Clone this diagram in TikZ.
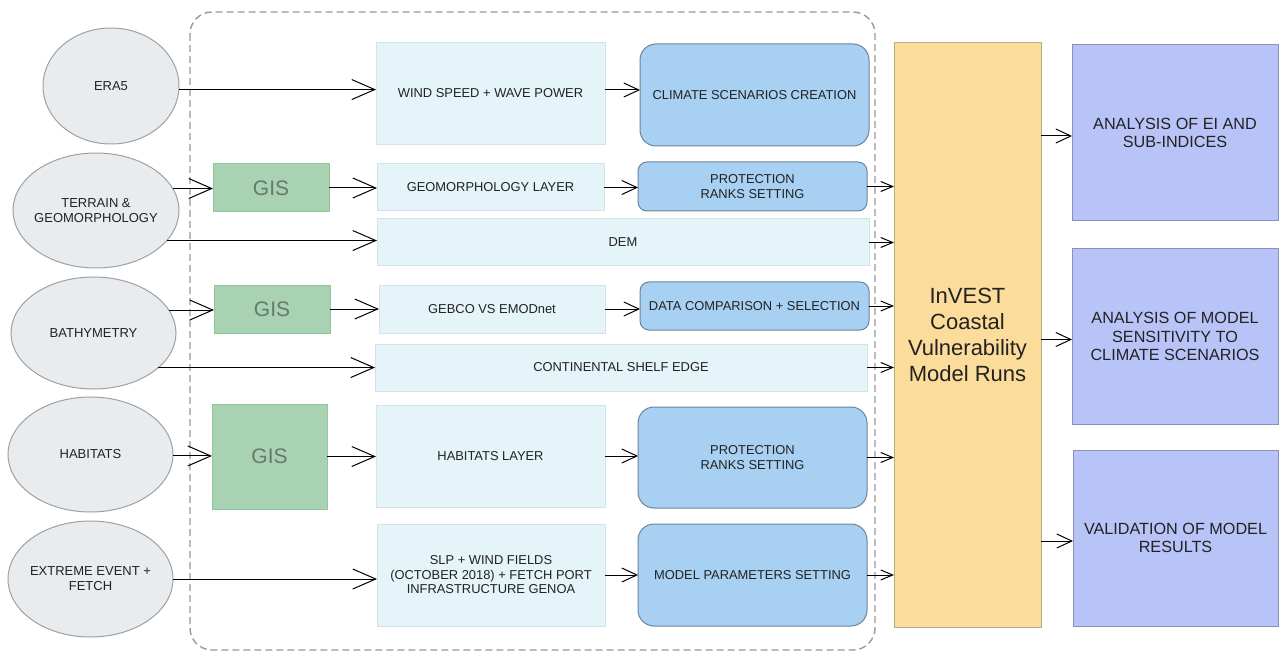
\documentclass[tikz,border=0pt]{standalone}
\usepackage{fontspec}
\setmainfont{Liberation Sans}
\usetikzlibrary{arrows.meta,shapes.geometric,calc}
\definecolor{ellfill}{HTML}{E9ECEF}
\definecolor{elldraw}{HTML}{A0A0A0}
\definecolor{gisfill}{HTML}{A9D2B2}
\definecolor{gisdraw}{HTML}{8FC79C}
\definecolor{gistext}{HTML}{667A6B}
\definecolor{lightfill}{HTML}{E4F4F8}
\definecolor{lightdraw}{HTML}{D3E4E8}
\definecolor{bluefill}{HTML}{A8D0F3}
\definecolor{bluedraw}{HTML}{6F8396}
\definecolor{invfill}{HTML}{FCDC9A}
\definecolor{invdraw}{HTML}{BBAA88}
\definecolor{rightfill}{HTML}{B8C4F8}
\definecolor{rightdraw}{HTML}{8A91B3}
\definecolor{txt}{HTML}{222222}
\tikzset{
  box/.style args={#1/#2}{minimum width=#1pt, minimum height=#2pt, inner sep=0pt, outer sep=0pt, align=center, text=txt},
  ell/.style={ellipse, draw=elldraw, fill=ellfill, line width=1pt, font=\fontsize{13}{15}\selectfont},
  gisbox/.style={rectangle, draw=gisdraw, fill=gisfill, line width=1pt, text=gistext, font=\fontsize{21}{24}\selectfont},
  lightbox/.style={rectangle, draw=lightdraw, fill=lightfill, line width=1pt, font=\fontsize{12.9}{14.5}\selectfont},
  bluebox/.style={rectangle, rounded corners=16pt, draw=bluedraw, fill=bluefill, line width=1pt, font=\fontsize{12.9}{14.5}\selectfont},
  invbox/.style={rectangle, draw=invdraw, fill=invfill, line width=1pt, font=\fontsize{22}{26}\selectfont},
  rightbox/.style={rectangle, draw=rightdraw, fill=rightfill, line width=1pt, font=\fontsize{16.2}{18.6}\selectfont},
  bigarr/.style={draw=black, line width=1pt, -{Straight Barb[length=23pt,width=20pt,line width=1pt]}},
  midarr/.style={draw=black, line width=1pt, -{Straight Barb[length=15pt,width=14pt,line width=1pt]}},
  smallarr/.style={draw=black, line width=1pt, -{Straight Barb[length=12pt,width=10pt,line width=1pt]}},
  groupframe/.style={draw=gray!80, line width=1.4pt, dash pattern=on 7pt off 4pt, rounded corners=22pt}
}
\begin{document}
\begin{tikzpicture}[x=1pt,y=-1pt]
\useasboundingbox (0,0) rectangle (1279,652);
\fill[white] (0,0) rectangle (1279,652);

% group frame
\draw[groupframe] (190,12) rectangle (875,650);

% ellipses
\node[ell, box=136/116, inner sep=-14pt] (era5) at (111,86) {ERA5};
\node[ell, box=166/115, inner sep=-14pt] (terrain) at (96,210.5) {TERRAIN \&\\GEOMORPHOLOGY};
\node[ell, box=165/112, inner sep=-14pt] (bathy) at (93.5,333) {BATHYMETRY};
\node[ell, box=165/115, inner sep=-14pt] (hab) at (90.5,454.5) {HABITATS};
\node[ell, box=165/116, inner sep=-14pt] (ext) at (90.5,579) {EXTREME EVENT +\\FETCH};

% GIS
\node[gisbox, box=116/48, text=gistext] (gis1) at (271,188) {GIS};
\node[gisbox, box=116/48, text=gistext] (gis2) at (272,309) {GIS};
\node[gisbox, box=115/105, text=gistext] (gis3) at (269.5,456.5) {GIS};

% light boxes
\node[lightbox, box=229/102] (wind) at (490.5,94) {\raisebox{3pt}{WIND SPEED + WAVE POWER}};
\node[lightbox, box=227/47] (geo) at (490.5,187.5) {GEOMORPHOLOGY LAYER};
\node[lightbox, box=492/47] (dem) at (623,242.5) {DEM};
\node[lightbox, box=226/48] (gebco) at (492,309) {GEBCO VS EMODnet};
\node[lightbox, box=492/47] (cont) at (621,367.5) {CONTINENTAL SHELF EDGE};
\node[lightbox, box=229/102] (habl) at (490.5,456) {HABITATS LAYER};
\node[lightbox, box=228/102] (slp) at (491,575) {SLP + WIND FIELDS\\(OCTOBER 2018) + FETCH PORT\\INFRASTRUCTURE GENOA};

% blue boxes
\node[bluebox, box=229/102] (climate) at (754.5,95) {CLIMATE SCENARIOS CREATION};
\node[bluebox, box=229/49, rounded corners=9pt] (prot1) at (752.5,186.5) {PROTECTION\\RANKS SETTING};
\node[bluebox, box=229/48, rounded corners=9pt] (datac) at (754.5,306) {DATA COMPARISON + SELECTION};
\node[bluebox, box=229/101] (prot2) at (752.5,457.5) {PROTECTION\\RANKS SETTING};
\node[bluebox, box=229/102] (model) at (752.5,575) {MODEL PARAMETERS SETTING};

% InVEST
\node[invbox, box=147/584] (invest) at (967.5,335) {InVEST\\Coastal\\Vulnerability\\Model Runs};

% right boxes
\node[rightbox, box=206/176] (ei) at (1175,133) {ANALYSIS OF EI AND\\SUB-INDICES};
\node[rightbox, box=206/175] (sens) at (1175,336.5) {ANALYSIS OF MODEL\\SENSITIVITY TO\\CLIMATE SCENARIOS};
\node[rightbox, box=205/176] (valid) at (1175.5,538) {VALIDATION OF MODEL\\RESULTS};

% arrows from ellipses
\draw[bigarr] (era5.-3.4) -- (era5.-3.4 -| wind.west);
\draw[bigarr] (terrain.16.4) -- (terrain.16.4 -| gis1.west);
\draw[bigarr] (terrain.-23.4) -- (terrain.-23.4 -| dem.west);
\draw[bigarr] (bathy.17) -- (bathy.17 -| gis2.west);
\draw[bigarr] (bathy.-28.5) -- (bathy.-28.5 -| cont.west);
\draw[bigarr] (hab.-1) -- (hab.-1 -| gis3.west);
\draw[bigarr] (ext.east) -- (ext.east -| slp.west);

% GIS to layers
\draw[bigarr] (gis1.east) -- (gis1.east -| geo.west);
\draw[bigarr] (gis2.east) -- (gis2.east -| gebco.west);
\draw[bigarr] (gis3.east) -- (gis3.east -| habl.west);

% layers to blue boxes
\draw[midarr] ($(wind.east)+(0,-4)$) -- ($(wind.east -| climate.west)+(0,-4)$);
\draw[midarr] (geo.east) -- (geo.east -| prot1.west);
\draw[midarr] (gebco.east) -- (gebco.east -| datac.west);
\draw[midarr] (habl.east) -- (habl.east -| prot2.west);
\draw[midarr] (slp.east) -- (slp.east -| model.west);

% into InVEST
\draw[smallarr] (prot1.east) -- (prot1.east -| invest.west);
\draw[smallarr] (dem.east) -- (dem.east -| invest.west);
\draw[smallarr] (datac.east) -- (datac.east -| invest.west);
\draw[smallarr] (cont.east) -- (cont.east -| invest.west);
\draw[smallarr] (prot2.east) -- (prot2.east -| invest.west);
\draw[smallarr] (model.east) -- (model.east -| invest.west);

% out of InVEST
\draw[midarr] ($(invest.east |- ei.west)+(0,3)$) -- ($(ei.west)+(0,3)$);
\draw[midarr] ($(invest.east |- sens.west)+(0,3)$) -- ($(sens.west)+(0,3)$);
\draw[midarr] ($(invest.east |- valid.west)+(0,3)$) -- ($(valid.west)+(0,3)$);
\end{tikzpicture}
\end{document}
